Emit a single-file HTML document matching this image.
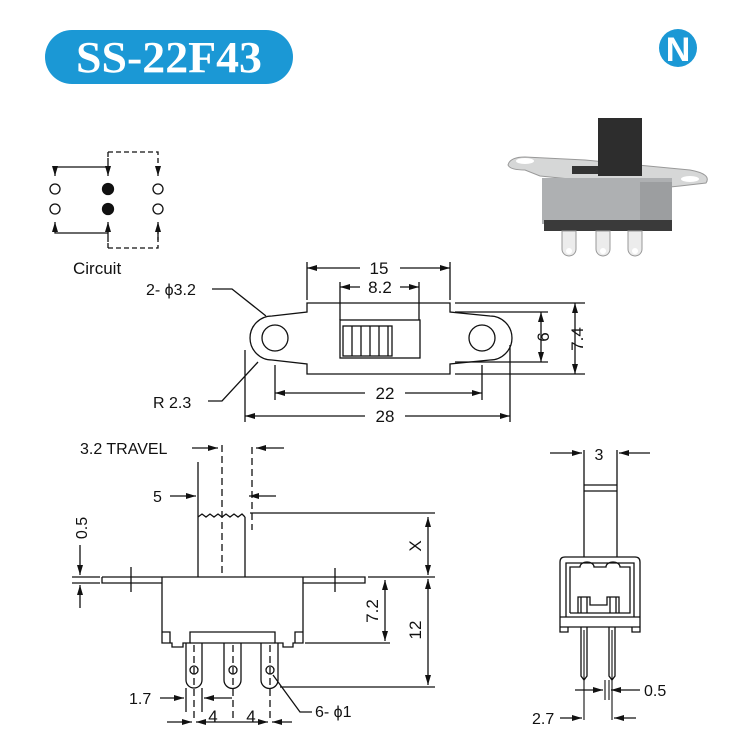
<!DOCTYPE html>
<html><head><meta charset="utf-8"><style>
html,body{margin:0;padding:0;background:#fff;width:735px;height:744px;overflow:hidden}
svg{display:block}
text{font-family:"Liberation Sans",sans-serif;fill:#111}
</style></head><body>
<svg width="735" height="744" viewBox="0 0 735 744" xmlns="http://www.w3.org/2000/svg">
<defs>
<marker id="a" viewBox="0 0 10 6" refX="10" refY="3" markerWidth="10" markerHeight="6" orient="auto-start-reverse" markerUnits="userSpaceOnUse"><path d="M0,0 L10,3 L0,6 z" fill="#111"/></marker>
</defs>
<!-- title -->
<rect x="45" y="30" width="248" height="54" rx="27" fill="#1b98d5"/>
<text x="169" y="72" text-anchor="middle" style="font-family:'Liberation Serif',serif;font-weight:bold;font-size:44px;fill:#fff" textLength="186" lengthAdjust="spacingAndGlyphs">SS-22F43</text>
<!-- logo -->
<circle cx="678" cy="48" r="19" fill="#1b98d5"/>
<text x="678" y="61" text-anchor="middle" style="font-family:'Liberation Sans',sans-serif;font-weight:bold;font-size:34px;fill:#fff">N</text>

<g stroke="#111" stroke-width="1.3" fill="none">
<!-- circuit -->
<path d="M108,152 H158 V168 M108,248 H158 V232 M108,152 V160 M108,248 V240" stroke-dasharray="5,3"/>
<path d="M108,158 V167 H55 V176" marker-end="url(#a)"/>
<path d="M108,167 V176" marker-end="url(#a)"/>
<path d="M158,168 V176" marker-end="url(#a)"/>
<path d="M108,242 V233 H55 V222" marker-end="url(#a)"/>
<path d="M108,233 V222" marker-end="url(#a)"/>
<path d="M158,240 V222" marker-end="url(#a)"/>
<circle cx="55" cy="189" r="5"/><circle cx="55" cy="209" r="5"/>
<circle cx="158" cy="189" r="5"/><circle cx="158" cy="209" r="5"/>
<circle cx="108" cy="189" r="5.5" fill="#111"/><circle cx="108" cy="209" r="5.5" fill="#111"/>

<!-- top view -->
<path d="M307,303 H450 V312 L490,316 A22,22 0 0 1 490,360 L450,364 V374 H307 V364 L272,360 A22,22 0 0 1 272,316 L307,312 Z"/>
<circle cx="275" cy="338" r="13"/><circle cx="482" cy="338" r="13"/>
<rect x="340" y="320" width="80" height="38"/>
<rect x="343" y="326" width="49" height="30"/>
<path d="M352,326V356 M361,326V356 M370,326V356 M379,326V356 M388,326V356"/>
<path d="M307,300 V262 M450,300 V262 M340,320 V282 M419,320 V282"/>
<path d="M340,287 H360" marker-start="url(#a)"/><path d="M400,287 H419" marker-end="url(#a)"/>
<path d="M307,268 H360" marker-start="url(#a)"/><path d="M400,268 H450" marker-end="url(#a)"/>
<path d="M455,303 H585 M455,312 H548 M455,362 H548 M455,374 H585"/>
<path d="M541,312 V362" marker-start="url(#a)" marker-end="url(#a)"/>
<path d="M575,303 V374" marker-start="url(#a)" marker-end="url(#a)"/>
<path d="M275,365 V400 M482,365 V400 M245,350 V422 M510,345 V422"/>
<path d="M275,393 H365" marker-start="url(#a)"/><path d="M405,393 H482" marker-end="url(#a)"/>
<path d="M245,416 H365" marker-start="url(#a)"/><path d="M405,416 H510" marker-end="url(#a)"/>
<path d="M212,289 H232 L266,316"/>
<path d="M208,401 H222 L258,362"/>

<!-- side view -->
<path d="M198,462 V577 M245,517 V577"/>
<path d="M198,517 l4,-3 l4,3 l4,-3 l4,3 l4,-3 l4,3 l4,-3 l4,3 l4,-3 l4,3 l4,-3 l3,3"/>
<path d="M222,445 V577 M252,447 V530" stroke-dasharray="7,4"/>
<path d="M192,448 H218" marker-end="url(#a)"/>
<path d="M284,448 H256" marker-end="url(#a)"/>
<path d="M170,496 H196" marker-end="url(#a)"/>
<path d="M276,496 H249" marker-end="url(#a)"/>
<path d="M102,577 H365 V583 H303 M102,577 V583 H162"/>
<path d="M131,567 V592 M335,568 V592 M72,577 H100 M72,583 H100 M368,577 H435"/>
<path d="M80,545 V575" marker-end="url(#a)"/><path d="M80,608 V585" marker-end="url(#a)"/>
<path d="M162,577 V643 H172 V647 H183 V643 H190 V632 H275 V643 H283 V647 H293 V643 H303 V577"/>
<path d="M162,632 H170 V643 M303,632 H295 V643 M190,643 H275"/>
<path d="M186,643 V680 A8,8 0 0 0 202,680 V643 M224,643 V680 A8,8 0 0 0 241,680 V643 M261,643 V680 A8,8 0 0 0 278,680 V643"/>
<circle cx="194" cy="670" r="4"/><circle cx="233" cy="670" r="4"/><circle cx="270" cy="670" r="4"/>
<path d="M194,645 V720 M233,645 V720 M270,645 V720" stroke-dasharray="7,4"/>
<path d="M250,513 H435 M305,643 H390 M280,687 H435"/>
<path d="M428,517 V575" marker-start="url(#a)" marker-end="url(#a)"/>
<path d="M428,579 V685" marker-start="url(#a)" marker-end="url(#a)"/>
<path d="M385,580 V641" marker-start="url(#a)" marker-end="url(#a)"/>
<path d="M186,688 V712 M202,688 V712"/>
<path d="M160,698 H184" marker-end="url(#a)"/><path d="M232,698 H204" marker-end="url(#a)"/>
<path d="M167,722 H192" marker-end="url(#a)"/><path d="M233,722 H196" marker-end="url(#a)"/><path d="M233,722 H268" marker-end="url(#a)"/><path d="M292,722 H272" marker-end="url(#a)"/>
<path d="M273,675 L300,712 H312"/>

<!-- end view -->
<path d="M584,450 V557 M617,450 V557 M584,485 H617 M584,491 H617"/>
<path d="M550,453 H582" marker-end="url(#a)"/><path d="M650,453 H619" marker-end="url(#a)"/>
<path d="M560,632 V562 Q560,557 565,557 H635 Q640,557 640,562 V632 H632 V627 H568 V632 Z M560,617 H640 M560,627 H640"/>
<path d="M566,617 V563 H634 V617 M570,613 V567 H580 A7,5 0 0 1 594,567 H606 A7,5 0 0 1 620,567 H630 V613 H570"/>
<path d="M578,613 V597 H590 V605 H607 V597 H619 V613 M581,597 V613 M587,597 V613 M610,597 V613 M616,597 V613"/>
<path d="M581,627 V676 L584,680 L587,676 V627 M609,627 V676 L612,680 L615,676 V627"/>
<path d="M584,630 V720 M612,630 V720 M605,680 V700 M609,680 V700" stroke-width="1.1"/>
<path d="M575,690 H603" marker-end="url(#a)"/><path d="M640,690 H611" marker-end="url(#a)"/>
<path d="M560,718 H582" marker-end="url(#a)"/><path d="M636,718 H614" marker-end="url(#a)"/>
</g>

<!-- photo -->
<g>
<path d="M508,165 Q510,157 525,157 L585,160 L690,170 Q712,174 706,183 L680,186 L660,188 L540,176 L525,170 Q510,170 508,165Z" fill="#d6d7d7" stroke="#999"/>
<ellipse cx="525" cy="161" rx="9" ry="3" fill="#fff"/>
<ellipse cx="690" cy="179" rx="9" ry="3" fill="#fff"/>
<rect x="542" y="178" width="130" height="46" fill="#aeb0b2"/>
<rect x="640" y="182" width="32" height="42" fill="#9c9ea0"/>
<rect x="544" y="220" width="128" height="11" fill="#3a3a3a"/>
<rect x="598" y="118" width="44" height="58" fill="#2d2d2d"/>
<rect x="572" y="166" width="26" height="8" fill="#333"/>
<g fill="#ececec" stroke="#999">
<path d="M562,231 h14 v18 a7,7 0 0 1 -14,0z"/><path d="M596,231 h14 v18 a7,7 0 0 1 -14,0z"/><path d="M628,231 h14 v18 a7,7 0 0 1 -14,0z"/>
</g>
<circle cx="569" cy="251" r="3" fill="#fff"/><circle cx="603" cy="251" r="3" fill="#fff"/><circle cx="635" cy="251" r="3" fill="#fff"/>
</g>

<text x="73" y="274" font-size="17">Circuit</text>
<text x="379" y="274" text-anchor="middle" font-size="17">15</text>
<text x="380" y="293" text-anchor="middle" font-size="17">8.2</text>
<text x="146" y="295" font-size="16">2- ϕ3.2</text>
<text x="153" y="408" font-size="16">R 2.3</text>
<text x="385" y="399" text-anchor="middle" font-size="17">22</text>
<text x="385" y="422" text-anchor="middle" font-size="17">28</text>
<text transform="translate(549,337) rotate(-90)" text-anchor="middle" font-size="17">6</text>
<text transform="translate(583,339) rotate(-90)" text-anchor="middle" font-size="17">7.4</text>
<text x="80" y="454" font-size="16">3.2 TRAVEL</text>
<text x="153" y="502" font-size="16">5</text>
<text transform="translate(87,528) rotate(-90)" text-anchor="middle" font-size="16">0.5</text>
<text transform="translate(421,546) rotate(-90)" text-anchor="middle" font-size="17">X</text>
<text transform="translate(378,611) rotate(-90)" text-anchor="middle" font-size="17">7.2</text>
<text transform="translate(421,630) rotate(-90)" text-anchor="middle" font-size="17">12</text>
<text x="129" y="704" font-size="16">1.7</text>
<text x="213" y="722" text-anchor="middle" font-size="17">4</text>
<text x="251" y="722" text-anchor="middle" font-size="17">4</text>
<text x="315" y="717" font-size="16">6- ϕ1</text>
<text x="599" y="460" text-anchor="middle" font-size="16">3</text>
<text x="644" y="696" font-size="16">0.5</text>
<text x="532" y="724" font-size="16">2.7</text>
</svg>
</body></html>
